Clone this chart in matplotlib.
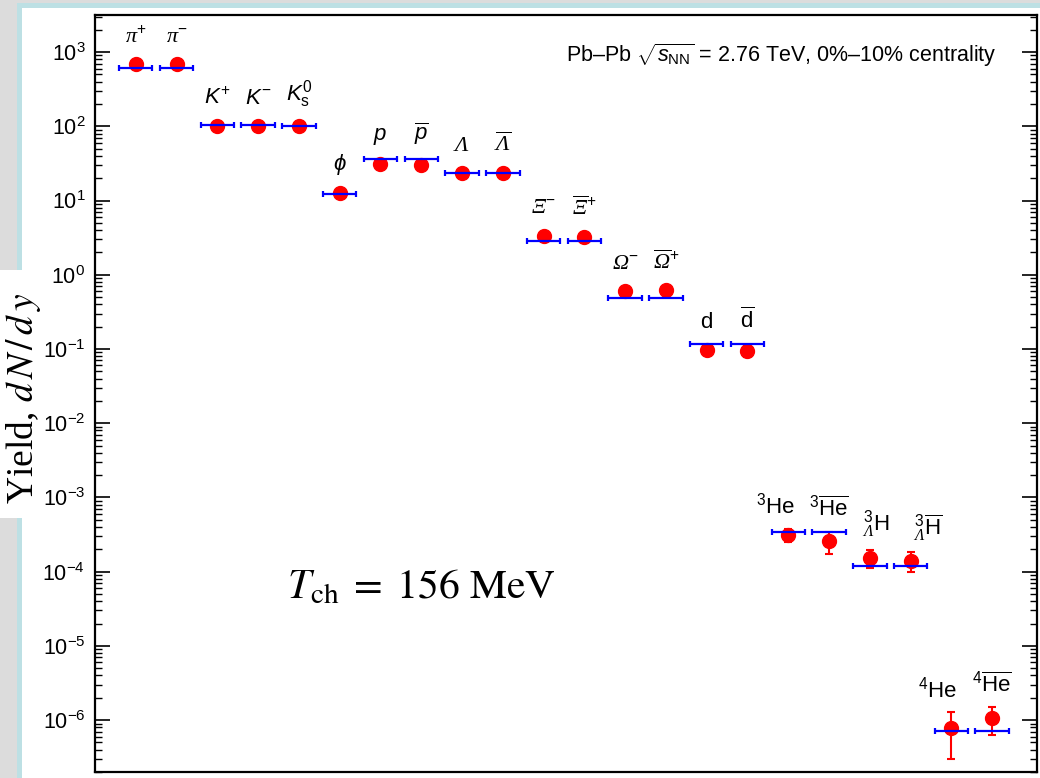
import numpy as np
import matplotlib
matplotlib.use("Agg")
import matplotlib.pyplot as plt
from matplotlib.patches import Rectangle
from matplotlib.ticker import LogLocator, NullFormatter, FixedLocator

plt.rcParams["font.family"] = ["Liberation Sans", "DejaVu Sans"]
plt.rcParams["mathtext.fontset"] = "custom"
plt.rcParams["mathtext.rm"] = "Liberation Sans"
plt.rcParams["mathtext.it"] = "Liberation Sans:italic"
plt.rcParams["mathtext.bf"] = "Liberation Sans:bold"
# serif italic used for the Greek baryon / pion symbols
plt.rcParams["mathtext.sf"] = "Liberation Serif:italic"

# ---- data -------------------------------------------------------------
particles = [
    r"$\mathsf{\pi}^{+}$", r"$\mathsf{\pi}^{-}$",
    r"$K^{+}$", r"$K^{-}$", r"$K^{0}_{\mathrm{s}}$",
    r"$\phi$", r"$p$", r"$\overline{p}$",
    r"$\mathsf{\Lambda}$", r"$\overline{\mathsf{\Lambda}}$",
    r"$\mathsf{\Xi}^{-}$", r"$\overline{\mathsf{\Xi}}^{+}$",
    r"$\mathsf{\Omega}^{-}$", r"$\overline{\mathsf{\Omega}}^{+}$",
    r"$\mathrm{d}$", r"$\overline{\mathrm{d}}$",
    r"${}^{3}\mathrm{He}$", r"${}^{3}\overline{\mathrm{He}}$",
    r"${}^{3}_{\mathsf{\Lambda}}\mathrm{H}$", r"${}^{3}_{\mathsf{\Lambda}}\overline{\mathrm{H}}$",
    r"${}^{4}\mathrm{He}$", r"${}^{4}\overline{\mathrm{He}}$",
]

measured = [685, 685, 102, 102, 100, 12.5, 31.3, 30.2, 23.8, 23.8,
            3.37, 3.27, 0.596, 0.615, 0.098, 0.095,
            3.13e-4, 2.6e-4, 1.55e-4, 1.40e-4, 7.9e-7, 1.08e-6]

measured_err = [50, 50, 8, 8, 6, 1.3, 2.5, 2.5, 2.0, 2.0,
                0.25, 0.25, 0.06, 0.06, 0.01, 0.017,
                0.6e-4, 0.87e-4, 0.42e-4, 0.42e-4, 4.9e-7, 4.4e-7]

thermal_model = [608, 608, 105, 105, 102, 12.3, 36.8, 36.8, 23.3, 23.3,
                 2.83, 2.83, 0.485, 0.485, 0.117, 0.117,
                 3.44e-4, 3.44e-4, 1.18e-4, 1.18e-4, 7.05e-7, 7.05e-7]

decades = list(range(-6, 4))

# horizontal nudges (points) for the nuclei labels so they don't collide
label_dx = {16: -9, 18: 4, 19: 12, 20: -10}

# ---- figure & page background ----------------------------------------
W, H = 1040, 778
fig = plt.figure(figsize=(W / 100, H / 100), dpi=100, facecolor="#dcdcdc")


def px_rect(x0, y0, x1, y1, color):
    fig.patches.append(Rectangle((x0 / W, 1 - y1 / H), (x1 - x0) / W, (y1 - y0) / H,
                                 transform=fig.transFigure, facecolor=color,
                                 edgecolor="none", zorder=-10))


px_rect(17, 3, W + 5, H + 5, "#bde0e4")
px_rect(22, 8, W + 5, H + 5, "white")
px_rect(0, 270, 22, 518, "white")

ax = fig.add_axes([95 / W, 6 / H, 942 / W, 757 / H])
ax.set_facecolor("white")

x = np.arange(len(particles))
ms = 10

ax.errorbar(x, measured, yerr=measured_err, fmt="o", color="#ff0000",
            markersize=ms, elinewidth=1.5, capsize=3, capthick=1.5, zorder=3)
ax.errorbar(x, thermal_model, xerr=0.41, fmt="none", ecolor="#0000ff",
            elinewidth=1.6, capsize=2.2, capthick=1.6, zorder=4)

ax.set_yscale("log")
ax.set_ylim(2.0e-7, 3.16e3)
ax.set_xlim(-1, 22.1)

ax.yaxis.set_major_locator(FixedLocator([10.0 ** k for k in decades]))
ax.yaxis.set_minor_locator(LogLocator(base=10, subs=np.arange(2, 10), numticks=100))
ax.yaxis.set_minor_formatter(NullFormatter())
ax.tick_params(axis="y", which="both", direction="in", left=True, right=True,
               labelsize=15.5, pad=7)
ax.tick_params(axis="y", which="major", length=11, width=1.2)
ax.tick_params(axis="y", which="minor", length=5, width=1.0)
ax.tick_params(axis="x", which="both", bottom=False, top=False, labelbottom=False)
for s in ax.spines.values():
    s.set_linewidth(1.6)

# ---- particle labels above each point --------------------------------
fig.canvas.draw()
r_px = ms * fig.dpi / 72 / 2
for i, lab in enumerate(particles):
    y_circle = ax.transData.transform((i, measured[i]))[1] + r_px
    y_err = ax.transData.transform((i, measured[i] + measured_err[i]))[1]
    y_bar = ax.transData.transform((i, thermal_model[i]))[1] + 1.5
    top_px = max(y_circle, y_err, y_bar)
    y_top = ax.transData.inverted().transform((0, top_px))[1]
    ax.annotate(lab, xy=(i, y_top), xytext=(label_dx.get(i, 0), 7),
                textcoords="offset points", ha="center", va="bottom", fontsize=16)

ax.text(0.9575, 0.947,
        r"Pb–Pb $\sqrt{s_{\mathrm{NN}}}$ = 2.76 TeV, 0%–10% centrality",
        transform=ax.transAxes, ha="right", va="center", fontsize=15.5)

ax.text(0.2038, 0.2299, r"$T_{\mathrm{ch}}\;=\;156\ \mathrm{MeV}$",
        transform=ax.transAxes, ha="left", va="baseline", fontsize=30,
        math_fontfamily="stix")

fig.text(24 / W, 1 - 398 / H, r"Yield, $d\,N\,/\,d\,y$", rotation=90, ha="center",
         va="center", fontsize=27, family="Liberation Serif",
         math_fontfamily="stix")

fig.savefig("out.png", dpi=100, facecolor=fig.get_facecolor())
